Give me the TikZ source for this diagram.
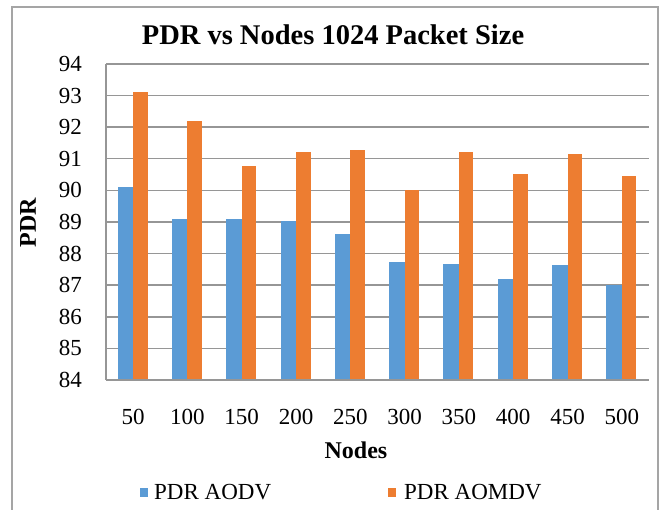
\documentclass[tikz,border=0pt]{standalone}
\usepackage{fontspec}
\setmainfont{Liberation Serif}
\usepackage{xcolor}
\usepackage{tikz}
\definecolor{aodvblue}{HTML}{5B9BD5}
\definecolor{aomdvorange}{HTML}{ED7D31}
\definecolor{gridgrey}{RGB}{150,150,150}
\definecolor{framegrey}{RGB}{165,165,165}
\newcommand{\gridrow}[1]{
  % horizontal grid line and its tick label
  \draw[gridline] (106, {380 - (#1 - 84)*31.6}) -- (649, {380 - (#1 - 84)*31.6});
  \node[ticklab, anchor=east] (y#1) at (82, {380 - (#1 - 84)*31.6}) {#1};
}
\newcommand{\barpair}[4]{
  % AODV bar, AOMDV bar, category label
  \fill[aodvbar] ({106 + 54.3*#1 + 11.6}, 380) rectangle ({106 + 54.3*#1 + 27.1}, {380 - (#3 - 84)*31.6});
  \fill[aomdvbar] ({106 + 54.3*#1 + 27.1}, 380) rectangle ({106 + 54.3*#1 + 41.6}, {380 - (#4 - 84)*31.6});
  \node[ticklab] (x#2) at ({106 + 54.3*#1 + 27.1}, 417) {#2};
}

\begin{document}
\begin{tikzpicture}[
        x=1pt, y=-1pt,
        gridline/.style={gridgrey, line width=1.4pt},
        chartframe/.style={framegrey, line width=1.3pt},
        aodvbar/.style={fill=aodvblue},
        aomdvbar/.style={fill=aomdvorange},
        ticklab/.style={inner sep=0pt, font={\fontsize{23}{23}\selectfont}},
        axislab/.style={inner sep=0pt, font={\fontsize{24}{24}\selectfont\bfseries}},
        charttitle/.style={inner sep=0pt, font={\fontsize{28.5}{28.5}\selectfont\bfseries}},
        legendlab/.style={inner sep=0pt, anchor=west, font={\fontsize{23}{23}\selectfont}},
        ]
        \useasboundingbox (0, 0) rectangle (663, 510);
        \fill[white] (0, 0) rectangle (663, 510);

        % chart frame (bottom edge cut off)
        \draw[chartframe] (12, 512) -- (12, 7) -- (658, 7) -- (658, 512);

        % title
        \node[charttitle] (title) at (333, 35) {PDR vs Nodes 1024 Packet Size};

        % grid and y ticks
        \gridrow{84}
        \gridrow{85}
        \gridrow{86}
        \gridrow{87}
        \gridrow{88}
        \gridrow{89}
        \gridrow{90}
        \gridrow{91}
        \gridrow{92}
        \gridrow{93}
        \gridrow{94}
        \draw[gridline] (106, 64) -- (106, 380);

        % bars
        \barpair{0}{50}{90.12}{93.10}
        \barpair{1}{100}{89.10}{92.21}
        \barpair{2}{150}{89.11}{90.76}
        \barpair{3}{200}{89.03}{91.21}
        \barpair{4}{250}{88.61}{91.27}
        \barpair{5}{300}{87.72}{90.00}
        \barpair{6}{350}{87.66}{91.21}
        \barpair{7}{400}{87.21}{90.51}
        \barpair{8}{450}{87.65}{91.15}
        \barpair{9}{500}{87.02}{90.44}
        \draw[gridline] (106, 380) -- (649, 380);

        % axis titles
        \node[axislab] (xtitle) at (356, 450) {Nodes};
        \node[axislab, rotate=90] (ytitle) at (28, 223) {PDR};

        % legend
        \fill[aodvbar] (140, 488) rectangle (148, 497);
        \node[legendlab] (legaodv) at (154, 492) {PDR AODV};
        \fill[aomdvbar] (388, 488) rectangle (396, 497);
        \node[legendlab] (legaomdv) at (404, 492) {PDR AOMDV};
    \end{tikzpicture}
\end{document}
